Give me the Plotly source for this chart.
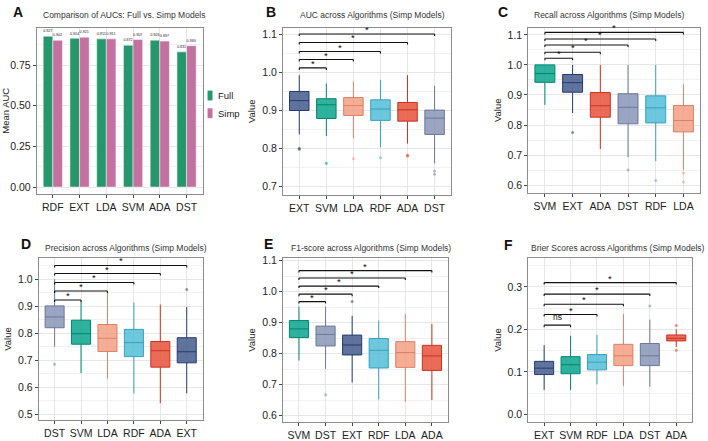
import plotly.graph_objects as go

W, H = 708, 441

# ---------------- Panel A data ----------------
a_cats = ["RDF", "EXT", "LDA", "SVM", "ADA", "DST"]
a_full = [0.927, 0.914, 0.911, 0.872, 0.903, 0.831]
a_simp = [0.902, 0.921, 0.911, 0.907, 0.897, 0.869]
a_series = ["Full", "Simp"]

# ---------------- Panel B: AUC ----------------
b_cats = ["EXT", "SVM", "LDA", "RDF", "ADA", "DST"]
b_q1 = [0.899, 0.878, 0.886, 0.873, 0.871, 0.836]
b_med = [0.925, 0.914, 0.912, 0.903, 0.901, 0.879]
b_q3 = [0.949, 0.930, 0.933, 0.927, 0.920, 0.900]
b_lo = [0.836, 0.832, 0.826, 0.802, 0.812, 0.760]
b_hi = [0.992, 0.970, 0.975, 0.979, 0.992, 0.964]
b_out = [[0.800, 0.797], [0.760], [0.772], [0.775], [0.781, 0.779], [0.740, 0.731]]
b_br = [("SVM", 1.011, "*"), ("LDA", 1.033, "*"), ("RDF", 1.054, "*"), ("ADA", 1.078, "*"), ("DST", 1.100, "*")]

# ---------------- Panel C: Recall ----------------
c_cats = ["SVM", "EXT", "ADA", "DST", "RDF", "LDA"]
c_q1 = [0.942, 0.909, 0.826, 0.804, 0.807, 0.777]
c_med = [0.971, 0.941, 0.864, 0.859, 0.857, 0.815]
c_q3 = [1.000, 0.968, 0.908, 0.904, 0.897, 0.865]
c_lo = [0.867, 0.840, 0.720, 0.693, 0.680, 0.650]
c_hi = [1.000, 1.000, 1.000, 1.000, 1.000, 0.936]
c_out = [[], [0.775], [], [0.650], [0.615], [0.640, 0.610]]
c_br = [("EXT", 1.022, "*"), ("ADA", 1.042, "*"), ("DST", 1.066, "*"), ("RDF", 1.086, "*"), ("LDA", 1.108, "*")]

# ---------------- Panel D: Precision ----------------
d_cats = ["DST", "SVM", "LDA", "RDF", "ADA", "EXT"]
d_q1 = [0.820, 0.759, 0.732, 0.713, 0.674, 0.690]
d_med = [0.860, 0.798, 0.781, 0.765, 0.735, 0.731]
d_q3 = [0.901, 0.848, 0.832, 0.814, 0.769, 0.783]
d_lo = [0.750, 0.652, 0.631, 0.577, 0.540, 0.577]
d_hi = [1.000, 0.917, 0.950, 0.914, 0.906, 0.897]
d_out = [[0.685], [], [], [], [], [0.962]]
d_br = [("SVM", 0.923, "*"), ("LDA", 0.956, "*"), ("RDF", 0.988, "*"), ("ADA", 1.021, "*"), ("EXT", 1.051, "*")]

# ---------------- Panel E: F1 ----------------
e_cats = ["SVM", "DST", "EXT", "RDF", "LDA", "ADA"]
e_q1 = [0.852, 0.825, 0.796, 0.754, 0.756, 0.746]
e_med = [0.880, 0.862, 0.828, 0.811, 0.804, 0.793]
e_q3 = [0.907, 0.889, 0.860, 0.849, 0.839, 0.827]
e_lo = [0.778, 0.751, 0.707, 0.653, 0.645, 0.651]
e_hi = [0.952, 0.952, 0.922, 0.907, 0.928, 0.896]
e_out = [[], [0.668], [0.968], [], [], []]
e_br = [("DST", 0.968, "*"), ("EXT", 0.992, "*"), ("RDF", 1.018, "*"), ("LDA", 1.044, "*"), ("ADA", 1.068, "*")]

# ---------------- Panel F: Brier ----------------
f_cats = ["EXT", "SVM", "RDF", "LDA", "DST", "ADA"]
f_q1 = [0.094, 0.096, 0.105, 0.115, 0.115, 0.173]
f_med = [0.109, 0.117, 0.123, 0.138, 0.138, 0.179]
f_q3 = [0.125, 0.136, 0.141, 0.165, 0.167, 0.187]
f_lo = [0.058, 0.058, 0.071, 0.067, 0.065, 0.159]
f_hi = [0.163, 0.185, 0.187, 0.236, 0.223, 0.200]
f_out = [[], [], [], [], [0.255], [0.209, 0.151]]
f_br = [("SVM", 0.210, "ns"), ("RDF", 0.235, "*"), ("LDA", 0.259, "*"), ("DST", 0.283, "*"), ("ADA", 0.310, "*")]

algo_colors = {
    "EXT": (60, 84, 136),
    "SVM": (0, 160, 135),
    "LDA": (243, 155, 127),
    "RDF": (77, 187, 213),
    "ADA": (230, 75, 53),
    "DST": (132, 145, 180),
}
series_colors = {"Full": "#26976C", "Simp": "#C3729F"}

FONT = "Liberation Sans, Arial, sans-serif"
TXT = "#222222"
GRID = "#E6E6E6"
MINOR = "#F1F1F1"
FRAME = "#8C8C8C"


def px_dom_x(a, b):
    return [a / W, b / W]


def px_dom_y(top, bottom):
    return [1 - bottom / H, 1 - top / H]


fig = go.Figure()
layout = {}


def axis_common():
    return dict(showline=True, mirror=True, linecolor=FRAME, linewidth=1,
                ticks="outside", ticklen=3, tickcolor="#444", tickwidth=0.8,
                tickfont=dict(size=10.5, color=TXT, family=FONT),
                showgrid=True, gridcolor=GRID, gridwidth=0.8, zeroline=False)


def setup_axes(n, xdom, ydom, cats, yrange, ytick, minor_dt, fmt, ytitle):
    xa = axis_common()
    xa.update(domain=xdom, anchor=f"y{n}" if n > 1 else "y", type="category",
              categoryorder="array", categoryarray=cats, range=[-0.6, len(cats) - 0.4])
    ya = axis_common()
    ya.update(domain=ydom, anchor=f"x{n}" if n > 1 else "x", range=yrange,
              dtick=ytick, tick0=0, tickformat=fmt,
              minor=dict(showgrid=True, gridcolor=MINOR, gridwidth=0.6, dtick=minor_dt, tick0=0, ticks=""),
              title=dict(text=ytitle, font=dict(size=9.5, color=TXT, family=FONT), standoff=4))
    key = "" if n == 1 else str(n)
    layout["xaxis" + key] = xa
    layout["yaxis" + key] = ya


def add_box_panel(n, cats, q1, med, q3, lo, hi, outs, brackets, yrange):
    xr = "x" if n == 1 else f"x{n}"
    yr = "y" if n == 1 else f"y{n}"
    for i, c in enumerate(cats):
        r, g, b = algo_colors[c]
        fig.add_trace(go.Box(
            x=[c], q1=[q1[i]], median=[med[i]], q3=[q3[i]],
            lowerfence=[lo[i]], upperfence=[hi[i]],
            boxpoints=False, width=0.72, whiskerwidth=0,
            fillcolor=f"rgba({r},{g},{b},0.82)",
            line=dict(color=f"rgb({max(r-25,0)},{max(g-25,0)},{max(b-25,0)})", width=1),
            xaxis=xr, yaxis=yr, showlegend=False, hoverinfo="skip"))
        if outs[i]:
            fig.add_trace(go.Scatter(
                x=[c] * len(outs[i]), y=outs[i], mode="markers",
                marker=dict(size=3, color=f"rgba({r},{g},{b},0.6)"),
                xaxis=xr, yaxis=yr, showlegend=False, hoverinfo="skip"))
    span = yrange[1] - yrange[0]
    tick = span * 0.012
    ref = cats[0]
    for (other, h, lab) in brackets:
        x0 = cats.index(ref)
        x1 = cats.index(other)
        for sh in [dict(x0=x0, x1=x1, y0=h, y1=h),
                   dict(x0=x0, x1=x0, y0=h, y1=h - tick),
                   dict(x0=x1, x1=x1, y0=h, y1=h - tick)]:
            fig.add_shape(type="line", xref=xr, yref=yr,
                          line=dict(color="#111", width=1.1), **sh)
        fig.add_annotation(x=(x0 + x1) / 2, y=h, xref=xr, yref=yr, text=lab,
                           showarrow=False, yanchor="bottom",
                           yshift=-3 if lab == "*" else 1,
                           font=dict(size=9.5 if lab == "*" else 8.5, color="#111", family=FONT))


# ---------------- Panel A ----------------
for name, vals in zip(a_series, [a_full, a_simp]):
    fig.add_trace(go.Bar(x=a_cats, y=vals, name=name,
                         marker=dict(color=series_colors[name], line=dict(color="white", width=0.5)),
                         text=[f"{v:.3f}" for v in vals], textposition="outside",
                         textfont=dict(size=4.5, color="#222", family=FONT),
                         cliponaxis=False, xaxis="x", yaxis="y", hoverinfo="skip", showlegend=False))
setup_axes(1, px_dom_x(32, 199), px_dom_y(25, 194), a_cats, [-0.042, 0.98], 0.25, 0.125, ".2f", "Mean AUC")

# manual legend for panel A
for k, name in enumerate(a_series):
    top = 89 + k * 18
    fig.add_shape(type="rect", xref="paper", yref="paper",
                  x0=204 / W, x1=209 / W, y0=1 - (top + 10) / H, y1=1 - top / H,
                  fillcolor=series_colors[name], line=dict(width=0))
    fig.add_annotation(text=name, x=212 / W, y=1 - (top + 5) / H, xref="paper", yref="paper",
                       showarrow=False, xanchor="left", yanchor="middle",
                       font=dict(size=9.5, color=TXT, family=FONT))

# ---------------- Box panels ----------------
setup_axes(2, px_dom_x(280, 449), px_dom_y(25, 195), b_cats, [0.677, 1.117], 0.1, 0.05, ".1f", "Value")
add_box_panel(2, b_cats, b_q1, b_med, b_q3, b_lo, b_hi, b_out, b_br, [0.677, 1.117])

setup_axes(3, px_dom_x(527, 700), px_dom_y(25, 193), c_cats, [0.574, 1.124], 0.1, 0.05, ".1f", "Value")
add_box_panel(3, c_cats, c_q1, c_med, c_q3, c_lo, c_hi, c_out, c_br, [0.574, 1.124])

setup_axes(4, px_dom_x(34, 199), px_dom_y(259, 424), d_cats, [0.477, 1.079], 0.1, 0.05, ".1f", "Value")
add_box_panel(4, d_cats, d_q1, d_med, d_q3, d_lo, d_hi, d_out, d_br, [0.477, 1.079])

setup_axes(5, px_dom_x(280, 446), px_dom_y(259, 426), e_cats, [0.579, 1.109], 0.1, 0.05, ".1f", "Value")
add_box_panel(5, e_cats, e_q1, e_med, e_q3, e_lo, e_hi, e_out, e_br, [0.579, 1.109])

setup_axes(6, px_dom_x(527, 692), px_dom_y(259, 426), f_cats, [-0.018, 0.368], 0.1, 0.05, ".1f", "Value")
add_box_panel(6, f_cats, f_q1, f_med, f_q3, f_lo, f_hi, f_out, f_br, [-0.018, 0.368])

# ---------------- Titles & panel letters ----------------
titles = [
    ("Comparison of AUCs: Full vs. Simp Models", 120, 12),
    ("AUC across Algorithms (Simp Models)", 370, 12),
    ("Recall across Algorithms (Simp Models)", 608, 12),
    ("Precision across Algorithms (Simp Models)", 122, 249),
    ("F1-score across Algorithms (Simp Models)", 369, 249),
    ("Brier Scores across Algorithms (Simp Models)", 617, 249),
]
for t, x, y in titles:
    fig.add_annotation(text=t, x=x / W, y=1 - y / H, xref="paper", yref="paper",
                       showarrow=False, xanchor="center", yanchor="middle",
                       font=dict(size=8.5, color="#333", family=FONT))
letters = [("A", 13, 9), ("B", 268, 9), ("C", 502, 9), ("D", 21, 245), ("E", 265, 245), ("F", 507, 246)]
for t, x, y in letters:
    fig.add_annotation(text=f"<b>{t}</b>", x=x / W, y=1 - y / H, xref="paper", yref="paper",
                       showarrow=False, xanchor="center", yanchor="middle",
                       font=dict(size=14, color="#111", family=FONT))

fig.update_layout(
    width=W, height=H, margin=dict(l=0, r=0, t=0, b=0),
    paper_bgcolor="white", plot_bgcolor="white",
    barmode="group", bargap=0.28, bargroupgap=0.0,
    boxmode="overlay",
    showlegend=False,
    **layout,
)

fig.write_html("out.html")
